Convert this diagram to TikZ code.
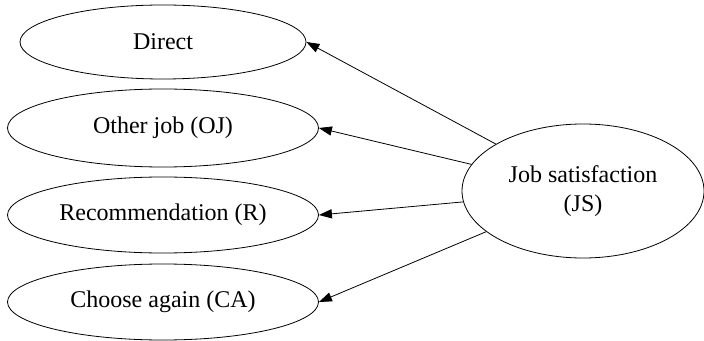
\documentclass[tikz,border=0pt]{standalone}
\usepackage{fontspec}
\setmainfont{Liberation Serif}
\usetikzlibrary{shapes.geometric,arrows.meta}
\begin{document}
\begin{tikzpicture}[x=0.5pt, y=-0.5pt, >={Triangle[length=6.5pt,width=4.6pt]},
  ell/.style={draw, ellipse, inner sep=0pt, font=\fontsize{12}{14.5}\selectfont, align=center}]
  \useasboundingbox (0,0) rectangle (704,341);
  \node[ell, minimum width=143pt, minimum height=37pt] (direct) at (163,42) {Direct};
  \node[ell, minimum width=155.5pt, minimum height=39pt] (oj) at (163,128) {Other job (OJ)};
  \node[ell, minimum width=155.5pt, minimum height=38pt] (rec) at (163,215) {Recommendation (R)};
  \node[ell, minimum width=155.5pt, minimum height=38pt] (ca) at (163,302) {Choose again (CA)};
  \node[ell, minimum width=121pt, minimum height=67pt] (js) at (583,191) {Job satisfaction\\(JS)};
  \draw[->] (js) -- (direct.east);
  \draw[->] (js) -- (oj.east);
  \draw[->] (js) -- (rec.east);
  \draw[->] (js) -- (ca.east);
\end{tikzpicture}
\end{document}
